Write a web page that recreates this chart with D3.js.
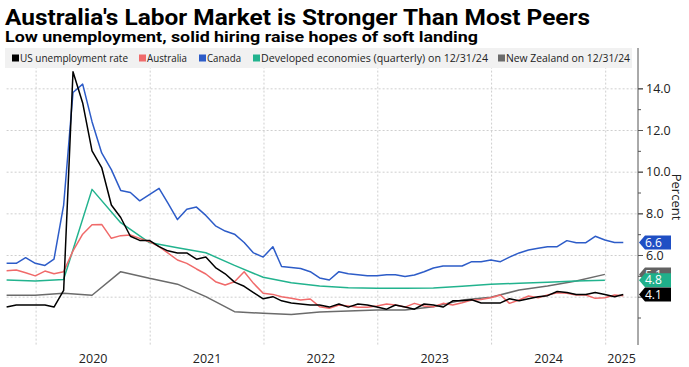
<!DOCTYPE html>
<html><head><meta charset="utf-8">
<script src="https://cdn.jsdelivr.net/npm/d3@7"></script>
<style>
body{margin:0;background:#fff}
svg{display:block}
text{font-family:"Open Sans","Noto Sans",sans-serif}
</style>
</head><body>
<svg id="chart" width="689" height="367"></svg>
<script>
// ---------- DATA ----------
const titleText = "Australia's Labor Market is Stronger Than Most Peers";
const subtitleText = "Low unemployment, solid hiring raise hopes of soft landing";
const seriesNames = ["US unemployment rate","Australia","Canada","Developed economies (quarterly) on 12/31/24","New Zealand on 12/31/24"];
const firstMonth = "2019-09";   // monthly series start (month-end points)
const firstQuarter = "2019-09"; // quarterly series start (quarter-end points)

const usRate = [3.5,3.6,3.6,3.6,
  3.6,3.5,4.3,14.8,13.3,11.0,10.2,8.4,7.8,6.9,6.7,6.7,
  6.4,6.2,6.1,6.1,5.8,5.9,5.4,5.1,4.7,4.5,4.2,3.9,
  4.0,3.8,3.7,3.65,3.6,3.6,3.5,3.65,3.5,3.65,3.6,3.5,
  3.4,3.6,3.5,3.4,3.65,3.6,3.5,3.8,3.8,3.85,3.7,3.7,
  3.7,3.9,3.8,3.9,4.0,4.05,4.25,4.2,4.1,4.1,4.2,4.1,
  4.0,4.1];
const australia = [5.25,5.28,5.15,5.0,
  5.23,5.1,5.2,6.2,7.0,7.45,7.47,6.8,6.93,6.96,6.8,6.64,
  6.4,6.1,5.76,5.6,5.33,5.09,4.72,4.56,4.72,5.2,4.64,4.16,
  4.11,4.0,3.92,3.84,3.89,3.52,3.44,3.6,3.55,3.49,3.49,3.55,
  3.65,3.6,3.5,3.68,3.55,3.52,3.68,3.6,3.71,3.84,3.87,3.95,
  4.08,3.68,3.84,4.03,3.95,4.08,4.19,4.16,4.08,4.08,3.92,3.95,
  4.08,4.05];
const canada = [5.6,5.6,5.87,5.6,
  5.5,5.8,8.4,13.8,14.2,12.4,10.9,10.1,9.1,9.0,8.6,8.9,
  9.2,8.5,7.7,8.2,8.3,7.9,7.4,7.15,7.0,6.6,6.1,5.9,
  6.4,5.45,5.4,5.35,5.2,4.9,4.8,5.2,5.1,5.05,5.0,5.0,
  5.05,5.05,4.97,5.04,5.2,5.38,5.47,5.47,5.47,5.68,5.68,5.76,
  5.68,5.9,6.1,6.24,6.32,6.4,6.4,6.69,6.59,6.59,6.9,6.72,
  6.6,6.6];
const developed = [4.8,4.75,4.83,9.15,7.55,6.6,6.35,6.11,5.5,4.93,4.67,4.51,4.43,4.41,4.41,4.42,4.5,4.6,4.64,4.69,4.75,4.79];
const newZealand = [4.07,4.07,4.16,4.07,5.2,4.88,4.6,4.0,3.28,3.2,3.15,3.27,3.31,3.36,3.36,3.52,3.84,3.97,4.32,4.51,4.75,5.07];

const yMajorTicks = [4,6,8,10,12,14];
const yLabelTicks = [6,8,10,12,14]; // 4.0 is hidden behind the end tags in the reference
const yMinorTicks = [3,5,7,9,11,13];
const yearLabels = ["2020","2021","2022","2023","2024","2025"];
const yAxisTitle = "Percent";

// ---------- STYLE ----------
const colors = {us:"#000000", au:"#f06a6a", ca:"#2d5cc8", dev:"#22b38e", nz:"#6b6b6b"};
const tagColors = {us:"#000000", au:"#f06a6a", ca:"#1f4fc4", dev:"#1fb08a", nz:"#626262"};

const svg = d3.select("#chart");
const parseM = d3.timeParse("%Y-%m");
const m0 = parseM(firstMonth), q0 = parseM(firstQuarter);
const monthEnd = (i) => new Date(m0.getFullYear(), m0.getMonth()+1+i, 0);
const quarterEnd = (i) => new Date(q0.getFullYear(), q0.getMonth()+1+3*i, 0);

const x = d3.scaleTime().domain([new Date(2019,8,30), new Date(2025,3,13)]).range([6.6, 637]);
const y = d3.scaleLinear().domain([1.7, 15]).range([344.6, 67.5]);

// Title & subtitle
svg.append("text").attr("x",5).attr("y",25).attr("textLength",585).attr("lengthAdjust","spacingAndGlyphs")
  .style("font-family","Roboto, 'Open Sans', sans-serif").style("font-weight",700).style("font-size","22.5px").attr("fill","#000").text(titleText);
svg.append("text").attr("x",5).attr("y",42).attr("textLength",473).attr("lengthAdjust","spacingAndGlyphs")
  .style("font-family","Roboto, 'Open Sans', sans-serif").style("font-weight",700).style("font-size","15px").attr("fill","#000").text(subtitleText);

// Grid: horizontal
const gGridY = svg.append("g").attr("transform","translate(6.6,0)")
  .call(d3.axisRight(y).tickValues(yMajorTicks).tickSize(637-6.6).tickFormat(""));
gGridY.select(".domain").remove();
gGridY.selectAll("line").attr("stroke","#cfcfcf").attr("stroke-dasharray","2,2");

// Grid: vertical at year starts
const yearStarts = yearLabels.map(s => new Date(+s,0,1));
const gGridX = svg.append("g").attr("transform","translate(0,344.6)")
  .call(d3.axisBottom(x).tickValues(yearStarts).tickSize(-(344.6-67)).tickFormat(""));
gGridX.select(".domain").remove();
gGridX.selectAll("line").attr("stroke","#cfcfcf").attr("stroke-dasharray","2,2");

// Legend band
svg.append("rect").attr("x",5).attr("y",48).attr("width",627).attr("height",20).attr("fill","#f1f1f1");
const legendKeys = ["us","au","ca","dev","nz"];
const legendSq = [12,139,199,253,498];
const legendTx = [20,147,207,261,506];
const legendW = [108,40,34,227,124];
legendKeys.forEach((k,i)=>{
  svg.append("rect").attr("x",legendSq[i]).attr("y",54.5).attr("width",7).attr("height",7).attr("fill",colors[k]);
  svg.append("text").attr("x",legendTx[i]).attr("y",62).attr("textLength",legendW[i]).attr("lengthAdjust","spacingAndGlyphs")
    .style("font-size","11px").attr("fill","#222").text(seriesNames[i]);
});

// Lines
const line = d3.line().x(d=>x(d.date)).y(d=>y(d.v));
const mk = (arr, f) => arr.map((v,i)=>({date:f(i), v}));
const series = [
  {k:"nz", d:mk(newZealand, quarterEnd)},
  {k:"dev", d:mk(developed, quarterEnd)},
  {k:"au", d:mk(australia, monthEnd)},
  {k:"ca", d:mk(canada, monthEnd)},
  {k:"us", d:mk(usRate, monthEnd)}
];
series.forEach(s=>{
  svg.append("path").datum(s.d).attr("d",line).attr("fill","none")
    .attr("stroke",colors[s.k]).attr("stroke-width",1.5).attr("stroke-linejoin","round");
});

// Right axis
svg.append("line").attr("x1",638).attr("x2",638).attr("y1",48).attr("y2",345).attr("stroke","#555").attr("stroke-width",1);
const gAxT = svg.append("g").attr("transform","translate(638,0)")
  .call(d3.axisRight(y).tickValues(yMajorTicks).tickSize(5).tickFormat(""));
gAxT.select(".domain").remove();
gAxT.selectAll("line").attr("stroke","#555");
const gAx = svg.append("g").attr("transform","translate(638,0)")
  .call(d3.axisRight(y).tickValues(yLabelTicks).tickSize(5).tickPadding(3).tickFormat(d3.format(".1f")));
gAx.select(".domain").remove();
gAx.selectAll("line").attr("stroke","#555");
gAx.selectAll("text").style("font-size","12.5px").style("font-family","'Open Sans',sans-serif").attr("fill","#222");
const gMin = svg.append("g").attr("transform","translate(638,0)")
  .call(d3.axisRight(y).tickValues(yMinorTicks).tickSize(3).tickFormat(""));
gMin.select(".domain").remove();
gMin.selectAll("line").attr("stroke","#555");

svg.append("text").attr("transform","translate(672,197) rotate(90)").attr("text-anchor","middle")
  .style("font-size","13px").attr("fill","#222").text(yAxisTitle);

// X labels centered in visible part of each year
const [d0,d1] = x.domain();
const labelDates = yearLabels.map(s=>{
  const a = new Date(Math.max(+new Date(+s,0,1), +d0));
  const b = new Date(Math.min(+new Date(+s+1,0,1), +d1));
  return new Date((+a + +b)/2);
});
const gX = svg.append("g").attr("transform","translate(0,344)")
  .call(d3.axisBottom(x).tickValues(labelDates).tickSize(0).tickPadding(10).tickFormat((d,i)=>yearLabels[i]));
gX.select(".domain").remove();
gX.selectAll("text").style("font-size","12.5px").style("font-family","'Open Sans',sans-serif").attr("fill","#222");

// End value tags (Australia's tag is fully hidden under the US tag in the reference)
const tagOrder = ["ca","nz","dev","us"];
const lastVals = {us:usRate, au:australia, ca:canada, dev:developed, nz:newZealand};
tagOrder.forEach(k=>{
  const arr = lastVals[k]; const v = arr[arr.length-1]; const cy = y(v);
  const p = d3.path();
  p.moveTo(639,cy); p.lineTo(645,cy-7); p.lineTo(671,cy-7); p.lineTo(671,cy+7); p.lineTo(645,cy+7); p.closePath();
  svg.append("path").attr("d",p.toString()).attr("fill",tagColors[k]);
  svg.append("text").attr("x",645).attr("y",cy).attr("dy","0.35em").style("font-size","12px")
    .attr("fill","#fff").text(d3.format(".1f")(v));
});
</script>
</body></html>
